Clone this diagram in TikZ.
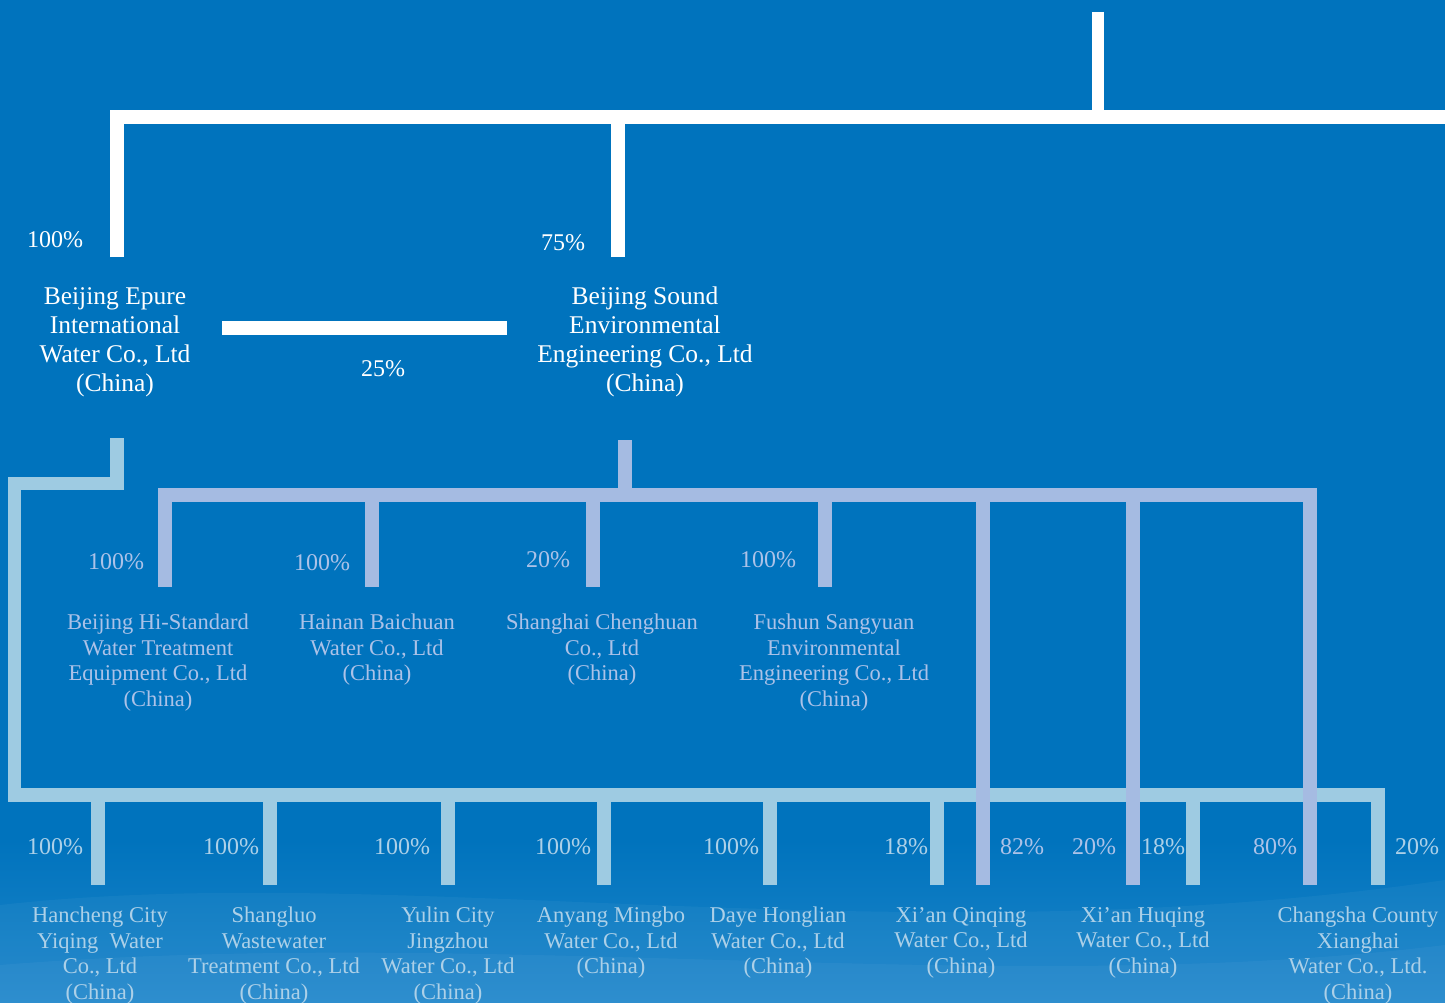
\documentclass[tikz,border=0pt]{standalone}
\usepackage{fontspec}
\setmainfont{Liberation Serif}
\definecolor{bg}{RGB}{0,115,189}
\definecolor{bglight}{RGB}{30,134,202}
\definecolor{lb}{RGB}{158,203,226}
\definecolor{lav}{RGB}{165,187,226}
\definecolor{midtxt}{RGB}{172,194,232}
\definecolor{bottxt}{RGB}{172,208,232}
\newcommand\pctxt[1]{#1\%}
\begin{document}
\begin{tikzpicture}[x=1pt,y=-1pt,
  wl/.style={draw=white,line width=13.5pt},
  lbl/.style={draw=lb,line width=13.5pt},
  lvl/.style={draw=lav,line width=14pt},
  toptext/.style={text=white,font=\fontsize{25.5}{29}\selectfont,align=center,inner sep=0pt,anchor=north},
  midtext/.style={text=midtxt,font=\fontsize{22.5}{25.5}\selectfont,align=center,inner sep=0pt,anchor=north},
  bottext/.style={text=bottxt,font=\fontsize{22.5}{25.5}\selectfont,align=center,inner sep=0pt,anchor=north},
  pw/.style={text=white,font=\fontsize{24}{26}\selectfont,inner sep=0pt},
  pl/.style={text=midtxt,font=\fontsize{24}{26}\selectfont,inner sep=0pt},
  pb/.style={text=bottxt,font=\fontsize{24}{26}\selectfont,inner sep=0pt}]
\useasboundingbox (0,0) rectangle (1445,1003);
\clip (0,0) rectangle (1445,1003);
% background
\fill[bg] (0,0) rectangle (1445,1003);
\shade[top color=bg,bottom color=bglight] (0,840) rectangle (1445,1003);
\fill[white,opacity=0.04] (0,905) .. controls (400,860) and (900,960) .. (1445,880) -- (1445,1003) -- (0,1003) -- cycle;
\fill[white,opacity=0.04] (0,965) .. controls (500,925) and (1000,1000) .. (1445,945) -- (1445,1003) -- (0,1003) -- cycle;

% ---- top level
\coordinate (parent) at (1098,12);
\coordinate (busL) at (117,117);
\coordinate (busR) at (1445,117);
\coordinate (epIn) at (117,257);
\coordinate (soIn) at (618,257);
\draw[wl,line width=12.5pt] (parent) -- (1098,117);
\draw[wl] (epIn) -- (busL) -- (busR);
\draw[wl] (soIn) -- (618,117);

\node[toptext] (epure) at (115,287) {Beijing Epure\\International\\Water Co., Ltd\\(China)};
\node[toptext] (sound) at (645,287) {Beijing Sound\\Environmental\\Engineering Co., Ltd\\(China)};

\coordinate (x25a) at (222,328);
\coordinate (x25b) at (507,328);
\draw[wl,line width=14pt] (x25a) -- (x25b);

\node[pw] (p1) at (55,240) {\pctxt{100}};
\node[pw] (p2) at (563,243) {\pctxt{75}};
\node[pw] (p3) at (383,369) {\pctxt{25}};

% ---- light blue tree (from Epure)
\coordinate (epOut) at (117,438);
\foreach \n/\x in {a/98,b/270,c/448,d/604,e/770,f/937,g/1193}{
  \coordinate (lb\n) at (\x,885);
  \draw[lbl] (lb\n) -- (\x,795);
}
\coordinate (lbh) at (1378,885);
\draw[lbl] (epOut) -- (117,483.5) -- (14.5,483.5) -- (14.5,795) -- (1378,795) -- (lbh);

% ---- lavender tree (from Sound)
\coordinate (soOut) at (625,440);
\draw[lvl] (soOut) -- (625,495);
\foreach \n/\x/\y in {b/372/587,c/593/587,d/825/587,e/983/885,f/1133/885}{
  \coordinate (lv\n) at (\x,\y);
  \draw[lvl] (lv\n) -- (\x,495);
}
\coordinate (lva) at (165,587);
\coordinate (lvg) at (1310,885);
\draw[lvl] (lva) -- (165,495) -- (1310,495) -- (lvg);

% ---- middle row
\node[midtext] (m1) at (158,614) {Beijing Hi-Standard\\Water Treatment\\Equipment Co., Ltd\\(China)};
\node[midtext] (m2) at (377,614) {Hainan Baichuan\\Water Co., Ltd\\(China)};
\node[midtext] (m3) at (602,614) {Shanghai Chenghuan\\Co., Ltd\\(China)};
\node[midtext] (m4) at (834,614) {Fushun Sangyuan\\Environmental\\Engineering Co., Ltd\\(China)};
\node[pl] (q1) at (116,562) {\pctxt{100}};
\node[pl] (q2) at (322,563) {\pctxt{100}};
\node[pl] (q3) at (548,560) {\pctxt{20}};
\node[pl] (q4) at (768,560) {\pctxt{100}};

% ---- bottom row
\node[bottext] (b1) at (100,907) {Hancheng City\\Yiqing\ \ Water\\Co., Ltd\\(China)};
\node[bottext] (b2) at (274,907) {Shangluo\\Wastewater\\Treatment Co., Ltd\\(China)};
\node[bottext] (b3) at (448,907) {Yulin City\\Jingzhou\\Water Co., Ltd\\(China)};
\node[bottext] (b4) at (611,907) {Anyang Mingbo\\Water Co., Ltd\\(China)};
\node[bottext] (b5) at (778,907) {Daye Honglian\\Water Co., Ltd\\(China)};
\node[bottext] (b6) at (961,907) {Xi’an Qinqing\\Water Co., Ltd\\(China)};
\node[bottext] (b7) at (1143,907) {Xi’an Huqing\\Water Co., Ltd\\(China)};
\node[bottext] (b8) at (1358,907) {Changsha County\\Xianghai\\Water Co., Ltd.\\(China)};

\node[pb] (r1) at (55,847) {\pctxt{100}};
\node[pb] (r2) at (231,847) {\pctxt{100}};
\node[pb] (r3) at (402,847) {\pctxt{100}};
\node[pb] (r4) at (563,847) {\pctxt{100}};
\node[pb] (r5) at (731,847) {\pctxt{100}};
\node[pb] (r6) at (906,847) {\pctxt{18}};
\node[pl] (r7) at (1022,847) {\pctxt{82}};
\node[pl] (r8) at (1094,847) {\pctxt{20}};
\node[pb] (r9) at (1163,847) {\pctxt{18}};
\node[pl] (r10) at (1275,847) {\pctxt{80}};
\node[pb] (r11) at (1417,847) {\pctxt{20}};
\end{tikzpicture}
\end{document}
